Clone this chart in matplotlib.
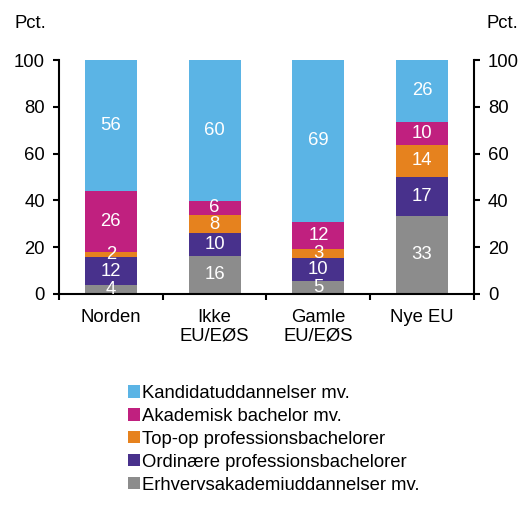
import numpy as np
import matplotlib.pyplot as plt

plt.rcParams['font.family'] = ['Liberation Sans', 'DejaVu Sans']

regions = ['Norden', 'Ikke\nEU/EØS', 'Gamle\nEU/EØS', 'Nye EU']
series = ['Erhvervsakademiuddannelser mv.', 'Ordinære professionsbachelorer',
          'Top-op professionsbachelorer', 'Akademisk bachelor mv.',
          'Kandidatuddannelser mv.']
# shares in pct. (labels show rounded values)
erhverv = [3.6, 16.2, 5.45, 33.4]
ordinaere = [12.2, 9.7, 10.1, 16.8]
topop = [2.0, 7.9, 3.45, 13.6]
akademisk = [26.0, 6.1, 11.9, 9.8]
kandidat = [56.2, 60.1, 69.1, 26.4]
values = [erhverv, ordinaere, topop, akademisk, kandidat]
colors = ['#8C8C8C', '#48318C', '#E6821E', '#C0207F', '#5BB4E5']

fs = 13.3

fig = plt.figure(figsize=(5.22, 5.05), dpi=100)
ax = fig.add_axes([0.113, 0.418, 0.795, 0.463])

x = np.arange(len(regions))
bottom = np.zeros(len(regions))
handles = []
for name, vals, col in zip(series, values, colors):
    vals = np.array(vals, dtype=float)
    b = ax.bar(x, vals, 0.5, bottom=bottom, color=col, label=name, zorder=2)
    handles.append(b)
    for xi, v, b0 in zip(x, vals, bottom):
        ax.text(xi, b0 + v / 2, f'{round(v):d}', ha='center', va='center',
                color='white', fontsize=fs, zorder=3)
    bottom += vals

ax.set_xlim(-0.5, len(regions) - 0.5)
ax.set_ylim(0, 100)
ax.set_yticks(range(0, 101, 20))
ax.set_xticks(np.arange(-0.5, len(regions), 1.0))
ax.set_xticklabels([])
ax.set_xticks(x, minor=True)
ax.set_xticklabels(regions, minor=True, fontsize=fs, linespacing=1.07)
ax.tick_params(axis='x', which='minor', length=0, pad=11)
ax.tick_params(axis='x', which='major', length=4, width=1.5, direction='out')
ax.tick_params(axis='y', labelsize=fs, length=4, width=1.5, direction='out',
               pad=6, right=True, labelright=True)
for s in ['left', 'right', 'bottom']:
    ax.spines[s].set_linewidth(1.5)
ax.spines['top'].set_visible(False)

fig.text(14 / 522, 1 - 23 / 505, 'Pct.', fontsize=fs, va='center', ha='left')
fig.text(518 / 522, 1 - 23 / 505, 'Pct.', fontsize=fs, va='center', ha='right')

fig.legend(handles[::-1], series[::-1], loc='upper left',
           bbox_to_anchor=(0.245, 1 - 385 / 505), frameon=False, fontsize=fs,
           handlelength=0.64, handleheight=0.64, handletextpad=0.15,
           labelspacing=0.32, borderaxespad=0, borderpad=0)

fig.savefig('out.png', dpi=100)
